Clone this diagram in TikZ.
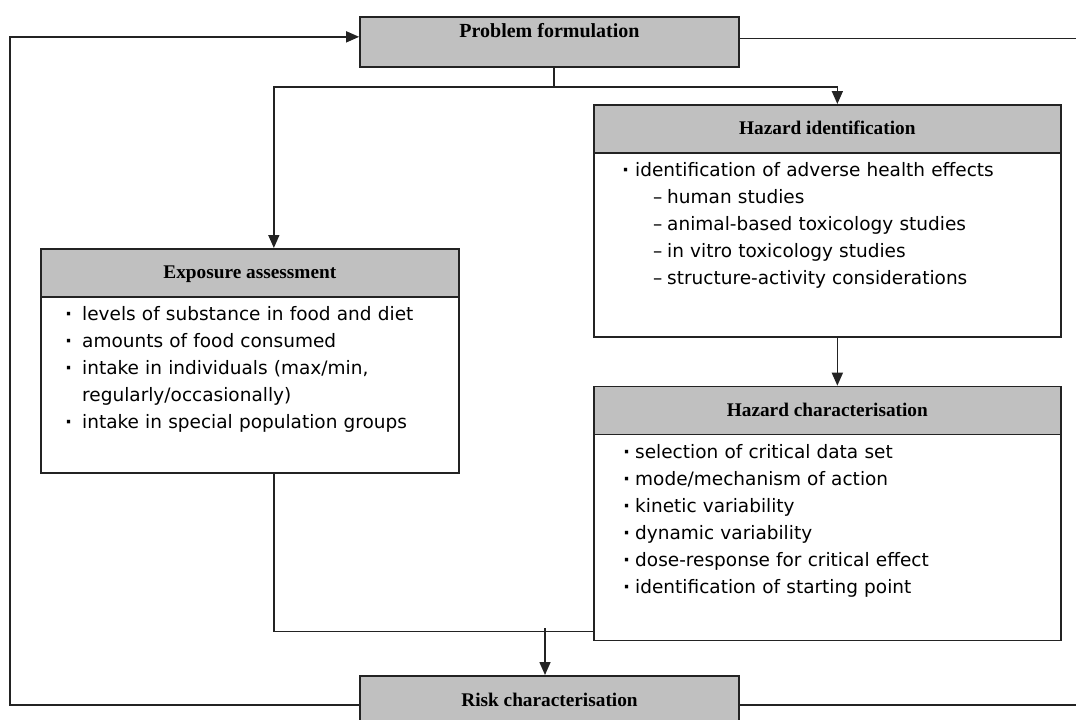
\documentclass[tikz,border=0pt]{standalone}
\usepackage{fontspec}
\setmainfont{Liberation Serif}
\newfontfamily\listfont{DejaVu Sans}
\usetikzlibrary{arrows.meta,positioning}
\definecolor{headgray}{RGB}{192,192,192}
\definecolor{inkgray}{RGB}{35,35,35}
\newcommand{\bul}[1][12pt]{\makebox[#1][l]{\bfseries·}}
\newcommand{\subitm}{\hspace*{31pt}\makebox[14pt][l]{–}}

\begin{document}
\begin{tikzpicture}[x=1pt,y=-1pt]
\tikzstyle{frame} = [rectangle, draw=inkgray, line width=1.7pt, fill=white,
inner sep=0pt, anchor=north west]
\tikzstyle{head} = [rectangle, draw=inkgray, line width=1.7pt, fill=headgray,
inner xsep=0pt, inner ysep=16.25pt, text height=13.5pt, text depth=2pt,
font=\bfseries\fontsize{19.3}{23}\selectfont]
\tikzstyle{items} = [anchor=north west, inner sep=0pt, text width=420pt,
align=left, font=\listfont\fontsize{18.5}{27}\selectfont]
\tikzstyle{wire} = [draw=inkgray, line width=1.6pt]
\tikzstyle{line} = [wire, -{Triangle[length=13pt,width=11pt]}]
\useasboundingbox (0,0) rectangle (1076,720);
\clip (0,0) rectangle (1076,720);

% top and bottom boxes
\node [head, minimum width=379pt, anchor=north, inner ysep=7pt, text height=14pt,
text depth=22pt, font=\bfseries\fontsize{20}{24}\selectfont] (problem) at (549.5,16) {Problem formulation};
\node [head, minimum width=379pt, anchor=north, inner ysep=17pt, text height=14pt,
text depth=22pt] (risk) at (549.5,675) {Risk characterisation};

% exposure assessment
\node [frame, minimum width=418pt, minimum height=224pt] (expbox) at (40,248) {};
\node [head, minimum width=418pt, anchor=north] (exp) at (expbox.north) {Exposure assessment};
\node [items, text width=380pt, below right=4pt and 25pt of exp.south west] (explist)
{\strut\bul[17pt]levels of substance in food and diet\\
\bul[17pt]amounts of food consumed\\
\bul[17pt]intake in individuals (max/min,\\
\hspace*{17pt}regularly/occasionally)\\
\bul[17pt]intake in special population groups};

% hazard identification
\node [frame, minimum width=467pt, minimum height=232pt] (hidbox) at (593,104) {};
\node [head, minimum width=467pt, anchor=north] (hid) at (hidbox.north) {Hazard identification};
\node [items, below right=4pt and 29pt of hid.south west] (hidlist)
{\strut\bul[13pt]identification of adverse health effects\\
\subitm human studies\\
\subitm animal-based toxicology studies\\
\subitm in vitro toxicology studies\\
\subitm structure-activity considerations};

% hazard characterisation
\node [frame, minimum width=467pt, minimum height=254pt, below=48pt of hidbox] (hcbox) {};
\node [head, minimum width=467pt, anchor=north] (hc) at (hcbox.north) {Hazard characterisation};
\node [items, below right=4pt and 30pt of hc.south west] (hclist)
{\strut\bul selection of critical data set\\
\bul mode/mechanism of action\\
\bul kinetic variability\\
\bul dynamic variability\\
\bul dose-response for critical effect\\
\bul identification of starting point};

% connectors
\draw [wire] ([xshift=4.5pt]problem.south) -- ++(0,-19.5pt) coordinate (fork);
\draw [line] (fork) -| ([xshift=10pt]hidbox.north);
\draw [line] (fork) -| ([xshift=24pt]expbox.north);
\draw [line] ([xshift=10pt]hidbox.south) -- ([xshift=10pt]hcbox.north);
\draw [wire] ([xshift=24pt]expbox.south) |- ([yshift=10pt]hcbox.south west);
\coordinate (merge) at (545,628);
\draw [line] (merge) -- (merge |- risk.north);
\draw [line] ([yshift=6pt]risk.west) -- ++(-349pt,0) |- ([yshift=5pt]problem.west);
\draw [wire] ([yshift=3.5pt]problem.east) -- ++(400pt,0) |- ([yshift=6pt]risk.east);
\end{tikzpicture}
\end{document}
